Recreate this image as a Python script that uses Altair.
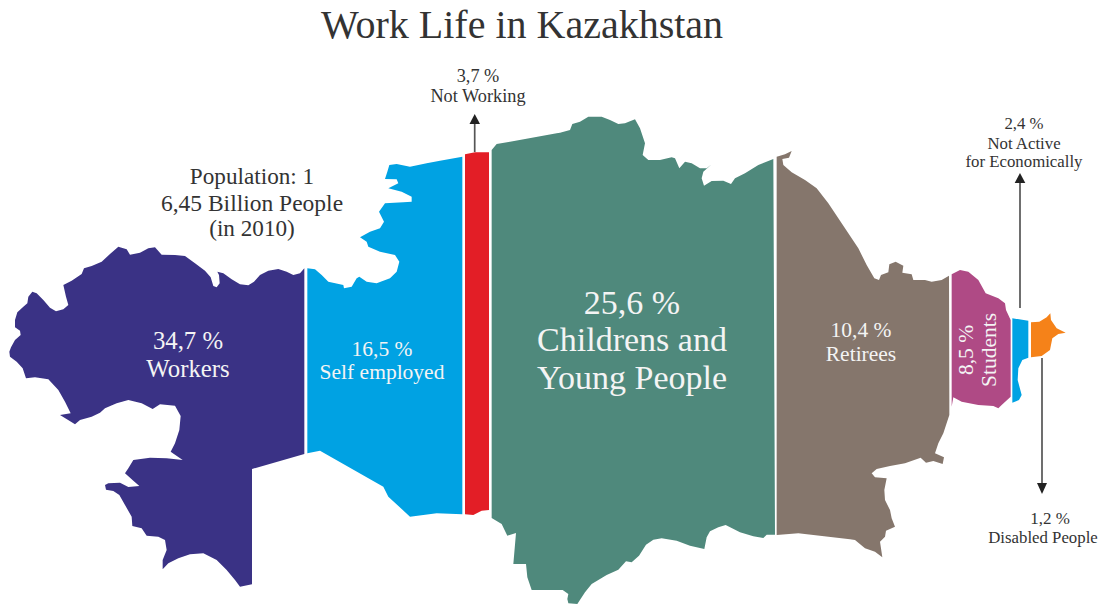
import altair as alt

# Region outlines. Each region is a list of traced
# stretches: (origin of the crop it was read in, points read at 3x).
WORKERS_TOP = [(28,335),(33,322),(45,300),(62,285),(60,272),(45,262),(45,240),(52,217),(70,200),(82,190),(85,170),(97,155),(110,160),(130,180),(150,203),(168,214),(190,208),(205,195),(198,170),(190,135),(215,122),(245,102),(252,85),(275,78),(305,65),(330,42),(355,20),(380,28),(390,44),(420,38),(445,25),(465,22),(485,44),(525,45),(555,48),(585,70),(615,92),(632,112),(640,138),(650,142),(659,130),(657,105),(652,95),(670,100),(695,118),(720,133),(745,136),(762,125),(780,105),(805,92),(835,87),(860,95),(880,105),(900,100),(913,85),(913,642)]
WORKERS_SOUTH = [(456,237),(456,583),(420,590),(405,570),(380,540),(350,510),(310,490),(270,493),(235,505),(205,520),(188,538),(188,510),(200,480),(195,450),(175,440),(140,437),(125,415),(97,408),(95,380),(75,345),(58,315),(40,303),(18,299),(15,285),(25,280),(60,278),(85,291),(118,288),(100,272),(75,250),(85,235),(100,210),(150,203),(200,205),(248,210),(212,185),(225,160),(238,120),(242,78),(225,47),(180,43),(158,57),(125,40),(85,30),(50,40),(15,55),(0,68)]
WORKERS_WEST = [(275,530),(240,540),(225,553),(180,525),(212,520),(195,485),(175,450),(145,418),(105,412),(78,415),(68,385),(50,365),(30,350)]
SELF_TOP = [(22,355),(45,358),(65,375),(85,395),(130,405),(132,415),(155,410),(170,385),(178,380),(200,395),(230,400),(270,385),(290,365),(298,335),(285,315),(240,305),(205,290),(200,275),(180,262),(210,245),(240,235),(252,215),(237,185),(255,160),(310,157),(335,155),(335,140),(305,125),(265,115),(295,100),(290,88),(255,87),(262,65),(268,45),(290,42),(330,50),(380,40),(420,32),(487,20)]
SELF_BOTTOM = [(517,1243),(440,1240),(360,1250),(295,1190),(280,1160),(90,1052),(52,1060)]
NOT_WORKING = [(525,163),(555,157),(597,157),(597,1230),(575,1232),(550,1245),(525,1243)]
CHILD_WEST = [(35,150),(50,132),(90,125),(230,100)]
CHILD_TOP = [(0,68),(30,60),(37,42),(60,35),(85,20),(125,20),(150,30),(175,42),(195,40),(225,28),(240,55),(255,100),(248,135),(265,150),(300,150),(335,142),(345,145),(358,175),(375,155),(395,160),(420,175),(440,175),(455,163),(430,185),(425,205),(432,227),(455,213),(490,212),(513,222),(525,205),(555,190),(595,165),(640,147)]
CHILD_BOTTOM = [(855,92),(830,92),(820,102),(790,97),(750,85),(707,63),(685,70),(660,82),(650,100),(643,135),(600,125),(560,110),(515,103),(490,107),(468,122),(447,155),(425,175),(408,172),(385,197),(350,213),(305,240),(285,265),(262,300),(235,298),(232,285),(235,270),(218,258),(125,258),(112,220),(108,180),(70,180),(78,87),(52,95),(35,60),(5,42)]
RETIREES_TOP = [(5,35),(30,28),(50,18),(42,38),(22,42),(25,60),(50,82),(90,105),(125,130),(160,175),(200,235),(250,310),(275,360),(298,400),(312,405),(318,390),(340,382),(343,358),(362,350),(385,362),(382,383),(410,388),(415,405),(450,405),(470,410),(500,405),(522,392)]
RETIREES_EAST = [(298,0),(298,45),(280,100),(265,130),(255,160),(282,172),(278,192),(250,183),(228,188),(212,173),(165,190),(120,198),(80,207),(65,220),(75,232),(110,235),(103,270),(105,300),(120,330),(125,355),(135,380),(108,392),(105,410),(90,425),(97,472),(75,455),(45,445),(15,420),(0,418)]
RETIREES_END = [(85,1180),(20,1185)]
STUDENTS = [(20,43),(45,30),(70,35),(100,60),(122,100),(160,115),(180,130),(183,150),(197,180),(197,410),(170,435),(160,445),(145,438),(100,435),(50,425),(25,412),(20,440)]
NOT_ACTIVE = [(202,175),(250,182),(250,293),(232,300),(220,325),(218,360),(230,405),(222,420),(202,428)]
DISABLED = [(258,187),(283,185),(305,172),(316,160),(318,180),(335,205),(362,218),(340,222),(322,235),(315,270),(290,288),(258,292)]

REGION_NAMES = ["Workers", "Self employed", "Not Working", "Children", "Retirees", "Students", "Not Active", "Disabled"]
REGION_COLORS = ["#3A3285", "#00A2E3", "#E31E26", "#4F897C", "#85766C", "#AF4A85", "#00A2E3", "#F58219"]
REGION_STRETCHES = [
    [((0, 240), WORKERS_TOP), ((100, 390), WORKERS_SOUTH), ((0, 240), WORKERS_WEST)],
    [((300, 150), SELF_TOP), ((290, 100), SELF_BOTTOM)],
    [((290, 100), NOT_WORKING)],
    [((480, 100), CHILD_WEST), ((560, 110), CHILD_TOP), ((490, 504), CHILD_BOTTOM)],
    [((775, 145), RETIREES_TOP), ((850, 400), RETIREES_EAST), ((770, 140), RETIREES_END)],
    [((945, 260), STUDENTS)],
    [((945, 260), NOT_ACTIVE)],
    [((945, 260), DISABLED)],
]

ARROW_SHAFTS = [[(474.7,152),(474.7,122)], [(1020,308),(1020,182)], [(1042,358),(1042,484)]]
ARROW_HEADS = [[(474.7,114),(480,124),(469.5,124)], [(1020,173),(1025.3,183),(1014.7,183)], [(1042,494),(1047,483),(1037,483)]]

LABELS = ["Work Life in Kazakhstan", "Population: 1", "6,45 Billion People", "(in 2010)",
          "34,7 %", "Workers", "16,5 %", "Self employed", "3,7 %", "Not Working",
          "25,6 %", "Childrens and", "Young People", "10,4 %", "Retirees",
          "2,4 %", "Not Active", "for Economically", "1,2 %", "Disabled People"]
LABEL_X = [522, 252, 252, 252, 188, 188, 382, 382, 478, 478, 632, 632, 632, 861, 861, 1024, 1024, 1024, 1050, 1043]
LABEL_Y = [26, 177, 204, 229, 342, 370, 350, 373, 77, 97, 304, 341, 379, 331, 355, 124, 144, 162, 519, 538]
LABEL_SIZE = [40, 23.2, 23.5, 23.2, 24.8, 24.8, 21.5, 21.5, 18.3, 18.3, 34, 34, 34, 21.5, 21.5, 16.8, 16.8, 16.8, 17, 16.8]
DARK, LIGHT = "#333333", "#F4F4F4"
LABEL_COLOR = [DARK, DARK, DARK, DARK, LIGHT, LIGHT, LIGHT, LIGHT, DARK, DARK,
               LIGHT, LIGHT, LIGHT, LIGHT, LIGHT, DARK, DARK, DARK, DARK, DARK]

ROTATED = ["8,5 %", "Students"]
ROTATED_X = [967, 990]
ROTATED_Y = [350, 350]


def to_picture(points, origin):
    return [[x / 3 + origin[0], y / 3 + origin[1]] for x, y in points]


def feature(kind, coords, name):
    return {"type": "Feature", "properties": {"name": name},
            "geometry": {"type": kind, "coordinates": coords}}


region_features = []
for name, stretches in zip(REGION_NAMES, REGION_STRETCHES):
    ring = []
    for origin, pts in stretches:
        ring += to_picture(pts, origin)
    region_features.append(feature("Polygon", [ring + [ring[0]]], name))

shaft_features = [feature("LineString", [list(p) for p in s], "shaft") for s in ARROW_SHAFTS]
head_features = []
for h in ARROW_HEADS:
    ring = [list(p) for p in h]
    head_features.append(feature("Polygon", [ring + [ring[0]]], "head"))

proj = dict(type="identity", scale=1, translate=[-8, -8])

regions = alt.Chart(alt.Data(values=region_features)).mark_geoshape(strokeWidth=0).encode(
    fill=alt.Fill("properties.name:N",
                  scale=alt.Scale(domain=REGION_NAMES, range=REGION_COLORS), legend=None)
).project(**proj)

shafts = alt.Chart(alt.Data(values=shaft_features)).mark_geoshape(
    filled=False, stroke="#555555", strokeWidth=1.7
).project(**proj)

heads = alt.Chart(alt.Data(values=head_features)).mark_geoshape(
    fill="#222222", strokeWidth=0
).project(**proj)

label_rows = [dict(text=t, x=x, y=y, size=s, color=c)
              for t, x, y, s, c in zip(LABELS, LABEL_X, LABEL_Y, LABEL_SIZE, LABEL_COLOR)]
labels = alt.Chart(alt.Data(values=label_rows)).mark_text(
    font="Liberation Serif", align="center", baseline="middle"
).encode(
    longitude="x:Q", latitude="y:Q", text="text:N",
    size=alt.Size("size:Q", scale=None),
    color=alt.Color("color:N", scale=None),
).project(**proj)

rotated_rows = [dict(text=t, x=x, y=y) for t, x, y in zip(ROTATED, ROTATED_X, ROTATED_Y)]
rotated = alt.Chart(alt.Data(values=rotated_rows)).mark_text(
    font="Liberation Serif", align="center", baseline="middle", angle=270, fontSize=21.5, color=LIGHT
).encode(longitude="x:Q", latitude="y:Q", text="text:N").project(**proj)

chart = alt.layer(regions, shafts, heads, labels, rotated).properties(
    width=1090, height=596, padding=0, background="white"
).configure_view(stroke=None)

chart.save("out.html", embed_options={"renderer": "svg", "actions": False})
